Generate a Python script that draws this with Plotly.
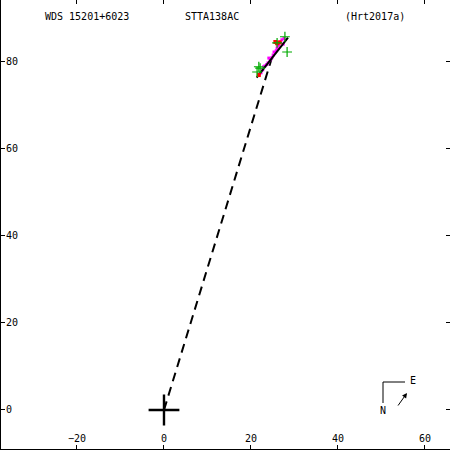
import plotly.graph_objects as go

# ---- data ----
title_left = "WDS 15201+6023"
title_mid = "STTA138AC"
title_right = "(Hrt2017a)"

primary_x = [0]
primary_y = [0]

dash_x = [0, 25.0]
dash_y = [0, 81.6]

orbit_x = [21.3, 28.5]
orbit_y = [76.4, 85.6]

green_x = [21.8, 22.1, 21.4, 26.0, 27.8, 28.3]
green_y = [78.9, 78.6, 77.7, 84.4, 85.8, 82.3]

magenta_x = [21.9, 22.3, 22.7, 23.2, 23.6, 23.9, 24.4, 24.8, 25.1, 25.3, 25.8, 26.0, 26.4,
             26.7, 27.1, 27.4, 26.2, 27.6, 24.1, 22.9]
magenta_y = [77.2, 77.5, 78.2, 79.1, 79.4, 79.8, 80.5, 81.0, 81.6, 82.3, 82.6, 83.2, 83.9,
             84.6, 85.1, 84.1, 83.7, 85.4, 80.9, 78.9]

red_x = [25.6, 26.0, 26.6, 21.8]
red_y = [84.6, 84.3, 84.5, 77.0]

x_ticks = [-20, 0, 20, 40, 60]
y_ticks = [0, 20, 40, 60, 80]
x_range = [-37.47, 65.75]
y_range = [-8.97, 94.25]

W, H = 450, 450
L, B = 1, 1


def px(x):
    return (x - L) / (W - L)


def py(y):
    return (H - B - y) / (H - B)


fig = go.Figure()
fig.add_trace(go.Scatter(x=dash_x, y=dash_y, mode="lines",
                         line=dict(color="black", width=2, dash="9px,6px"), hoverinfo="skip"))
fig.add_trace(go.Scatter(x=magenta_x, y=magenta_y, mode="markers",
                         marker=dict(symbol="square", size=3, color="#ff00ff", line=dict(width=0))))
fig.add_trace(go.Scatter(x=orbit_x, y=orbit_y, mode="lines",
                         line=dict(color="black", width=2), hoverinfo="skip"))
fig.add_trace(go.Scatter(x=red_x, y=red_y, mode="markers",
                         marker=dict(symbol="square", size=4, color="#ff0000", line=dict(width=0))))
fig.add_trace(go.Scatter(x=green_x, y=green_y, mode="markers",
                         marker=dict(symbol="cross-thin", size=7, line=dict(color="#00aa00", width=1.2))))
fig.add_trace(go.Scatter(x=primary_x, y=primary_y, mode="markers",
                         marker=dict(symbol="cross-thin", size=22, line=dict(color="black", width=2.4))))

font = dict(family="DejaVu Sans Mono", size=10, color="black")

fig.update_layout(
    width=W, height=H, showlegend=False,
    margin=dict(l=L, r=0, t=0, b=B, pad=0),
    paper_bgcolor="white", plot_bgcolor="white",
    font=font,
    xaxis=dict(range=x_range, tickvals=x_ticks, ticks="inside", ticklen=4, tickcolor="black",
               showline=True, linecolor="black", linewidth=2, showgrid=False, zeroline=False,
               ticklabelposition="inside", tickfont=font, fixedrange=True),
    yaxis=dict(range=y_range, tickvals=y_ticks, ticks="inside", ticklen=4, tickcolor="black",
               showline=True, linecolor="black", linewidth=2, showgrid=False, zeroline=False,
               ticklabelposition="inside", tickfont=font, fixedrange=True),
    xaxis2=dict(range=x_range, tickvals=x_ticks, ticks="inside", ticklen=4, tickcolor="black",
                overlaying="x", side="top", showticklabels=False, showline=False,
                showgrid=False, zeroline=False, fixedrange=True),
    yaxis2=dict(range=y_range, tickvals=y_ticks, ticks="inside", ticklen=4, tickcolor="black",
                overlaying="y", side="right", showticklabels=False, showline=False,
                showgrid=False, zeroline=False, fixedrange=True),
)
# invisible trace to activate the mirror axes
fig.add_trace(go.Scatter(x=[None], y=[None], xaxis="x2", yaxis="y2", hoverinfo="skip"))

for txt, x0 in [(title_left, 43), (title_mid, 183), (title_right, 343)]:
    fig.add_annotation(x=px(x0), y=py(17), xref="paper", yref="paper", text=txt,
                       showarrow=False, xanchor="left", yanchor="middle", font=font)

# compass
fig.add_shape(type="line", xref="paper", yref="paper",
              x0=px(383), y0=py(382), x1=px(405), y1=py(382), line=dict(color="black", width=1))
fig.add_shape(type="line", xref="paper", yref="paper",
              x0=px(383), y0=py(382), x1=px(383), y1=py(403), line=dict(color="black", width=1))
fig.add_annotation(x=px(383), y=py(410), xref="paper", yref="paper", text="N",
                   showarrow=False, font=font, xanchor="center", yanchor="middle")
fig.add_annotation(x=px(413), y=py(380), xref="paper", yref="paper", text="E",
                   showarrow=False, font=font, xanchor="center", yanchor="middle")
fig.add_annotation(x=px(407), y=py(393), ax=-10, ay=14, xref="paper", yref="paper",
                   text="", showarrow=True, arrowhead=2,
                   arrowsize=1, arrowwidth=1, arrowcolor="black")

fig.write_html("out.html", config={"displayModeBar": False},
               post_script="document.body.style.margin='0';document.body.style.overflow='hidden';")
